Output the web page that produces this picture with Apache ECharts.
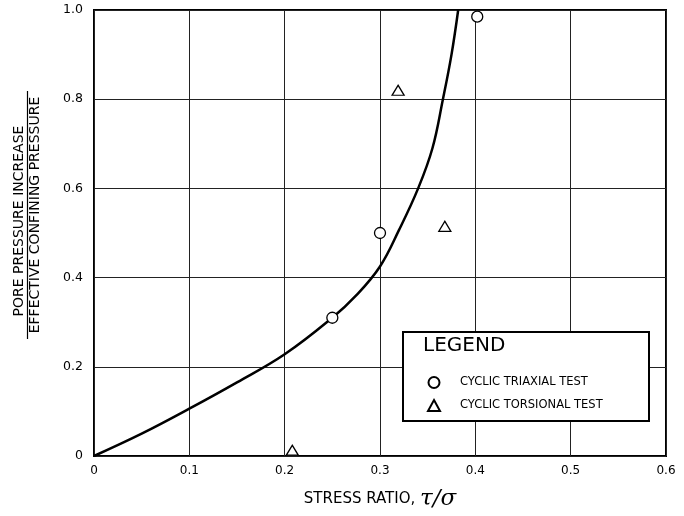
<!DOCTYPE html>
<html>
<head>
<meta charset="utf-8">
<script src="https://cdn.jsdelivr.net/npm/echarts@6/dist/echarts.min.js"></script>
<style>
  html, body { margin: 0; padding: 0; background: #fff; }
  #chart { width: 684px; height: 516px; }
</style>
</head>
<body>
<div id="chart"></div>
<script>
// 试验点 (stress ratio, pore pressure ratio)
var triaxialX = [0.25, 0.30, 0.402];
var triaxialY = [0.31, 0.50, 0.985];
var torsionalX = [0.208, 0.319, 0.368];
var torsionalY = [0.013, 0.82, 0.515];
// 拟合曲线
var curveX = [0, 0.05, 0.1, 0.15, 0.2, 0.25, 0.275, 0.3, 0.32, 0.34, 0.355, 0.366, 0.375, 0.382];
var curveY = [0, 0.05, 0.106, 0.165, 0.228, 0.31, 0.36, 0.425, 0.507, 0.6, 0.69, 0.8, 0.9, 1.0];
var xTicks = ['0', '0.1', '0.2', '0.3', '0.4', '0.5', '0.6'];
var yTicks = ['0', '0.2', '0.4', '0.6', '0.8', '1.0'];

function pairs(xs, ys) {
    return xs.map(function (x, i) { return [x, ys[i]]; });
}

var font = 'DejaVu Sans';
var chart = echarts.init(document.getElementById('chart'));

var option = {
    animation: false,
    grid: {
        left: 94, right: 18, top: 10, bottom: 53,
        show: true, borderColor: '#000', borderWidth: 2
    },
    xAxis: {
        type: 'value', min: 0, max: 0.6, interval: 0.1,
        axisLine: { show: false },
        axisTick: { show: false },
        splitLine: { lineStyle: { color: '#222', width: 1 } },
        axisLabel: {
            color: '#000', fontFamily: font, fontSize: 12, margin: 9,
            formatter: function (v) { return xTicks[Math.round(v * 10)]; }
        },
        name: '{a|STRESS RATIO, }{b|τ/σ}',
        nameLocation: 'middle', nameGap: 32,
        nameTextStyle: {
            rich: {
                a: { fontFamily: font, fontSize: 15, color: '#000' },
                b: { fontFamily: 'DejaVu Serif', fontStyle: 'italic', fontSize: 23, color: '#000' }
            }
        }
    },
    yAxis: {
        type: 'value', min: 0, max: 1, interval: 0.2,
        axisLine: { show: false },
        axisTick: { show: false },
        splitLine: { lineStyle: { color: '#222', width: 1 } },
        axisLabel: {
            color: '#000', fontFamily: font, fontSize: 12.5, margin: 11,
            formatter: function (v) { return yTicks[Math.round(v * 5)]; }
        }
    },
    legend: {
        orient: 'vertical', left: 422, top: 371, z: 20,
        itemWidth: 12, itemHeight: 11, itemGap: 10,
        data: ['CYCLIC TRIAXIAL TEST', 'CYCLIC TORSIONAL TEST'],
        textStyle: { color: '#000', fontFamily: font, fontSize: 11.5, padding: [0, 0, 0, 15] }
    },
    graphic: [
        {
            type: 'rect', z: 10,
            shape: { x: 403, y: 332, width: 246, height: 89 },
            style: { fill: '#fff', stroke: '#000', lineWidth: 2 }
        },
        {
            type: 'text', z: 11, left: 423, top: 336,
            style: { text: 'LEGEND', fill: '#000', font: '20px "DejaVu Sans"' }
        },
        {
            type: 'group', x: 27.5, y: 215, rotation: Math.PI / 2,
            children: [
                {
                    type: 'text', x: -6, y: -8,
                    style: { text: 'PORE PRESSURE INCREASE', fill: '#000', font: '14px "DejaVu Sans"',
                        align: 'center', verticalAlign: 'middle' }
                },
                {
                    type: 'line',
                    shape: { x1: -124, y1: 0, x2: 124, y2: 0 },
                    style: { stroke: '#000', lineWidth: 1.2 }
                },
                {
                    type: 'text', x: 0, y: 8,
                    style: { text: 'EFFECTIVE CONFINING PRESSURE', fill: '#000', font: '14px "DejaVu Sans"',
                        align: 'center', verticalAlign: 'middle' }
                }
            ]
        }
    ],
    series: [
        {
            name: 'curve', type: 'line', data: pairs(curveX, curveY),
            smooth: 0.4, showSymbol: false, z: 3,
            lineStyle: { color: '#000', width: 2.5 }
        },
        {
            name: 'CYCLIC TRIAXIAL TEST', type: 'scatter', data: pairs(triaxialX, triaxialY),
            symbol: 'circle', symbolSize: 11, z: 4,
            itemStyle: { color: '#fff', borderColor: '#000', borderWidth: 1.3, opacity: 1 }
        },
        {
            name: 'CYCLIC TORSIONAL TEST', type: 'scatter', data: pairs(torsionalX, torsionalY),
            symbol: 'triangle', symbolSize: [12, 10], z: 4,
            itemStyle: { color: '#fff', borderColor: '#000', borderWidth: 1.3, opacity: 1 }
        }
    ]
};
chart.setOption(option);
</script>
</body>
</html>
